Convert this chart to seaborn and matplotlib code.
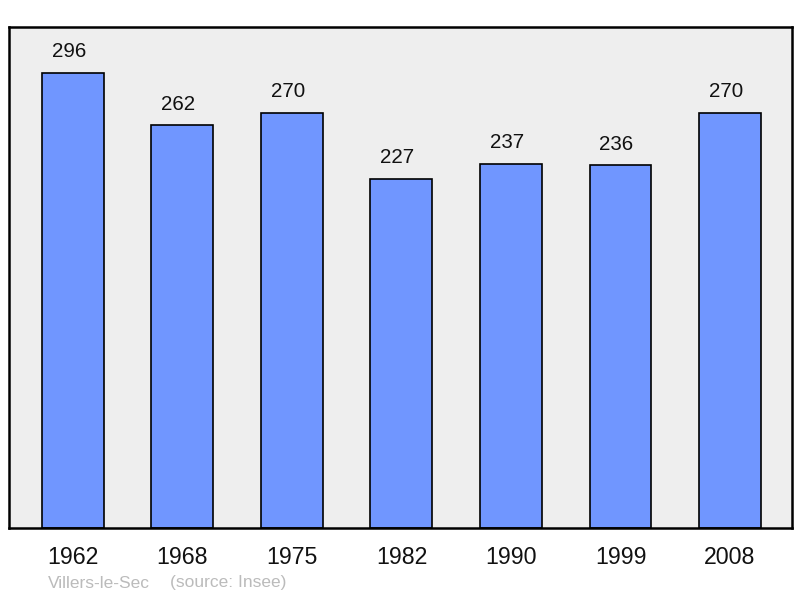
import pandas as pd
import seaborn as sns
import matplotlib.pyplot as plt

# Population figures
years = ['1962', '1968', '1975', '1982', '1990', '1999', '2008']
population = [296, 262, 270, 227, 237, 236, 270]

data = pd.DataFrame({'year': years, 'population': population})

sns.set_style('white')
plt.rcParams['font.family'] = ['Liberation Sans', 'DejaVu Sans']

fig = plt.figure(figsize=(8, 5.98), dpi=100)
ax = fig.add_axes([9 / 800, 70 / 598, 783 / 800, 501 / 598])
ax.set_facecolor('#eeeeee')

sns.barplot(data=data, x='year', y='population', color='#7096ff',
            saturation=1, width=0.566, edgecolor='black', linewidth=1.2, ax=ax)

# value labels above each bar
for i, v in enumerate(population):
    ax.annotate(str(v), (i, v), xytext=(-3, 8.5), textcoords='offset points',
                ha='center', va='bottom', fontsize=14.8, color='#111111')

ax.set_xlim(-0.584, 6.566)
ax.set_ylim(0, 326)
ax.set_yticks([])
ax.set_xlabel('')
ax.set_ylabel('')
ax.tick_params(axis='x', length=0, pad=13, labelsize=16.7, labelcolor='#111111')
for s in ax.spines.values():
    s.set_visible(True)
    s.set_color('black')
    s.set_linewidth(1.8)

fig.text(48 / 800, 1 - 583 / 598, 'Villers-le-Sec', ha='left', va='center',
         fontsize=12.5, color='#bbbbbb')
fig.text(170 / 800, 1 - 583 / 598, '(source: Insee)', ha='left', va='center',
         fontsize=12.5, color='#bbbbbb')

fig.savefig('out.png', dpi=100)
